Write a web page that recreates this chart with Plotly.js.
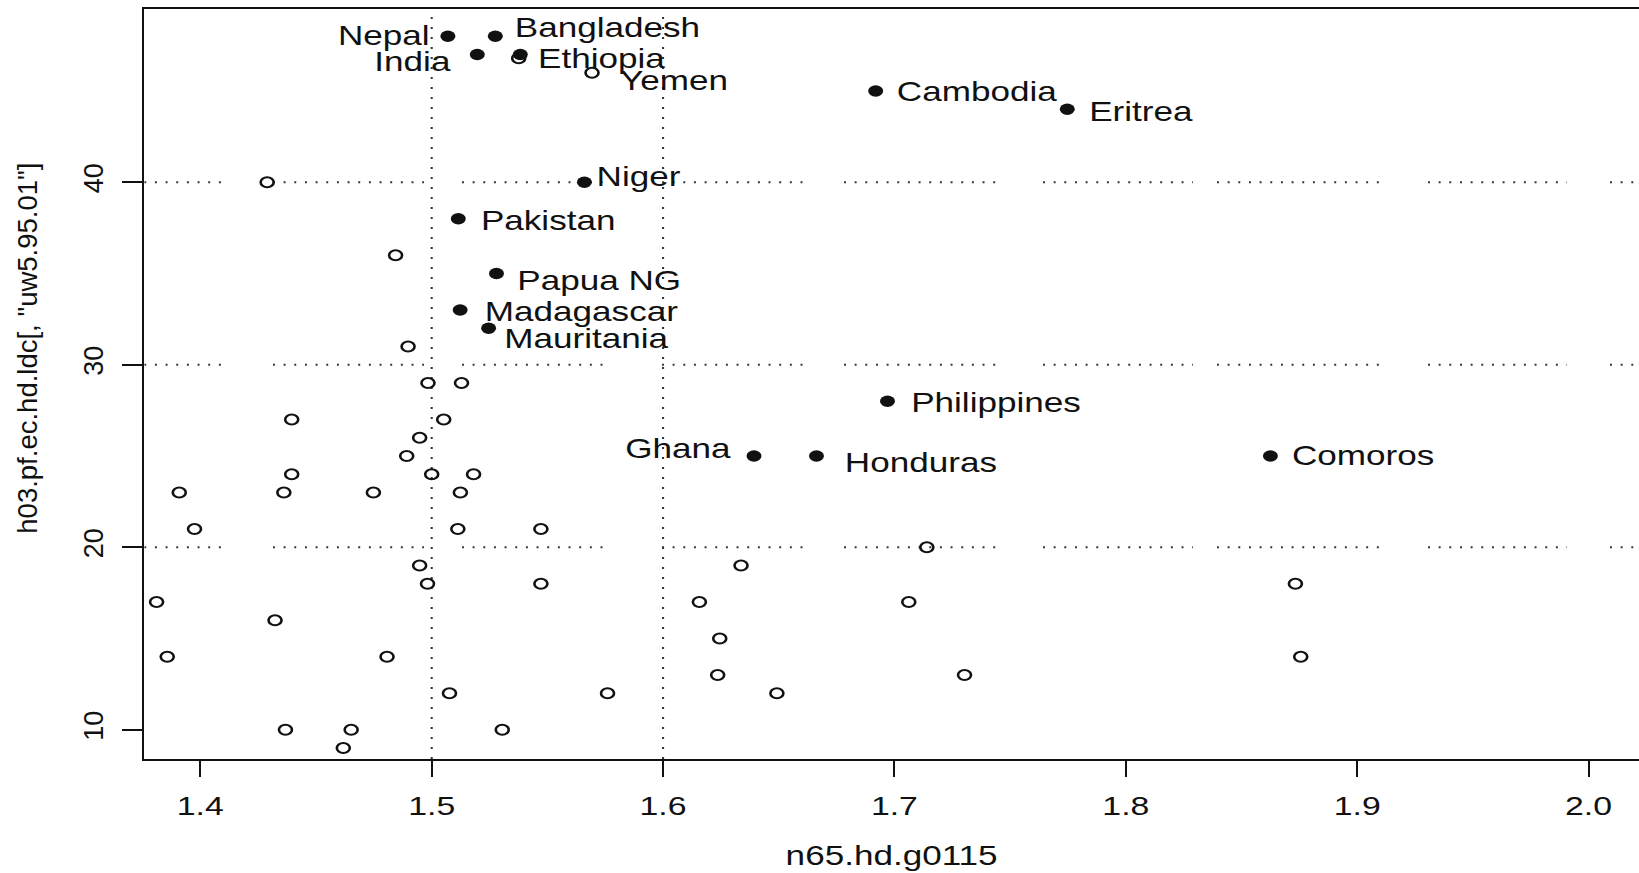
<!DOCTYPE html>
<html>
<head>
<meta charset="utf-8">
<script src="https://cdn.plot.ly/plotly-3.0.1.min.js"></script>
<style>
  html, body { margin:0; padding:0; background:#fff; overflow:hidden; width:1639px; height:873px; }
  #wrap { position:relative; width:1639px; height:873px; overflow:hidden; background:#fff; }
  #main { position:absolute; left:0; top:0; width:1261px; height:873px; transform-origin:0 0; }
  #ylab { position:absolute; left:0; top:0; width:1639px; height:873px; pointer-events:none; }
</style>
</head>
<body>
<div id="wrap"><div id="main"></div><div id="ylab"></div></div>
<script>
// ---------------- data ----------------
const labCountries = ['Nepal','Bangladesh','India','Ethiopia','Yemen','Cambodia','Eritrea','Niger',
                      'Pakistan','Papua NG','Madagascar','Mauritania','Philippines','Ghana','Honduras','Comoros'];
const labX = [1.5070, 1.5275, 1.5197, 1.5383, 1.5693, 1.6919, 1.7747, 1.5660,
              1.5115, 1.5280, 1.5123, 1.5246, 1.6970, 1.6393, 1.6663, 1.8625];
const labY = [48, 48, 47, 47, 46, 45, 44, 40,
              38, 35, 33, 32, 28, 25, 25, 25];
const labFilled = [true, true, true, true, false, true, true, true,
                   true, true, true, true, true, true, true, true];

const otherX = [1.4289, 1.4844, 1.4898, 1.4984, 1.5129, 1.4395, 1.5052, 1.4948, 1.4892,
                1.4395, 1.5000, 1.5181, 1.3909, 1.4361, 1.4748, 1.5124, 1.3975, 1.5113,
                1.5472, 1.4948, 1.4982, 1.5472, 1.6337, 1.3811, 1.6157, 1.4323, 1.6245,
                1.3857, 1.4807, 1.6236, 1.5077, 1.5760, 1.6492, 1.4368, 1.4652, 1.5305,
                1.4618, 1.7140, 1.7062, 1.8733, 1.8756, 1.7303, 1.5376];
const otherY = [40, 36, 31, 29, 29, 27, 27, 26, 25,
                24, 24, 24, 23, 23, 23, 23, 21, 21,
                21, 19, 18, 18, 19, 17, 17, 16, 15,
                14, 14, 13, 12, 12, 12, 10, 10, 10,
                9, 20, 17, 18, 14, 13, 46.8];

const xTicks = [1.4, 1.5, 1.6, 1.7, 1.8, 1.9, 2.0];
const xTickText = ['1.4', '1.5', '1.6', '1.7', '1.8', '1.9', '2.0'];
const yTicks = [10, 20, 30, 40];
const yTickText = ['10', '20', '30', '40'];
const hRefLines = [20, 30, 40];
const vRefLines = [1.5, 1.6];
const xTitle = 'n65.hd.g0115';
const yTitle = 'h03.pf.ec.hd.ldc[, "uw5.95.01"]';

// ---------------- styling / geometry ----------------
const FINAL_W = 1639, PRE_W = 1261, SX = FINAL_W / PRE_W;
const xRange = [1.37578, 2.0218];
const yRange = [8.395, 49.495];
const FONT = 'Arial, "Liberation Sans", Helvetica, sans-serif';
const INK = '#111';

// label offsets in final pixels: [anchor, dx, dy(down +)]
const labStyle = {
  'Nepal':['right',-18,0], 'Bangladesh':['left',19,-8], 'India':['right',-25,7.5],
  'Ethiopia':['left',18,4], 'Yemen':['left',28,8.5], 'Cambodia':['left',21,1],
  'Eritrea':['left',22,3], 'Niger':['left',12,-5], 'Pakistan':['left',22,2],
  'Papua NG':['left',21,7], 'Madagascar':['left',25,2], 'Mauritania':['left',16,10.5],
  'Philippines':['left',24,2], 'Ghana':['right',-22,-7], 'Honduras':['left',28,7],
  'Comoros':['left',22,0]
};

// rendering artefact: gaps in the dotted horizontal reference lines (final px)
const hGapsPx = [[227,273],[424,462],[608,662],[807,844],[998,1043],[1193,1217],[1384,1428],[1567,1610]];
const plotLeftPx = 144.3, plotRightPx = 1639;
function pxToX(px){ return xRange[0] + (px - plotLeftPx) / (plotRightPx - plotLeftPx) * (xRange[1] - xRange[0]); }

document.getElementById('main').style.transform = 'scaleX(' + SX + ')';

const openX = otherX.slice(), openY = otherY.slice();
const fillX = [], fillY = [];
labCountries.forEach((c, i) => {
  if (labFilled[i]) { fillX.push(labX[i]); fillY.push(labY[i]); }
  else { openX.push(labX[i]); openY.push(labY[i]); }
});

const traces = [
  { type:'scatter', mode:'markers', x:openX, y:openY, hoverinfo:'skip',
    marker:{ symbol:'circle-open', size:10, color:INK, line:{ width:2, color:INK } } },
  { type:'scatter', mode:'markers', x:fillX, y:fillY, hoverinfo:'skip',
    marker:{ symbol:'circle', size:11.5, color:INK, line:{ width:0 } } }
];

const shapes = [];
const dotH = { color:'#333', width:2, dash:'1.5px,6.7px' };
const dotV = { color:'#333', width:1.6, dash:'2px,8px' };
hRefLines.forEach(yv => {
  let start = xRange[0];
  hGapsPx.forEach(g => {
    const a = pxToX(g[0]), b = pxToX(g[1]);
    if (a > start) shapes.push({ type:'line', xref:'x', yref:'y', x0:start, x1:a, y0:yv, y1:yv, line:dotH, layer:'below' });
    start = b;
  });
  if (start < xRange[1]) shapes.push({ type:'line', xref:'x', yref:'y', x0:start, x1:xRange[1], y0:yv, y1:yv, line:dotH, layer:'below' });
});
vRefLines.forEach(xv => {
  shapes.push({ type:'line', xref:'x', yref:'paper', x0:xv, x1:xv, y0:0, y1:1, line:dotV, layer:'below' });
});

const annotations = labCountries.map((c, i) => {
  const st = labStyle[c];
  const left = st[0] === 'left';
  return {
    x: labX[i], y: labY[i], xref:'x', yref:'y', text:c, showarrow:false,
    xanchor: st[0], yanchor:'middle',
    xshift: st[1] / SX + (left ? -2 : 2), yshift: -st[2],
    font:{ family:FONT, size:27, color:INK }
  };
});

const layout = {
  width: PRE_W, height: 873,
  margin:{ l:111, r:0, t:9, b:114, pad:0 },
  paper_bgcolor:'#fff', plot_bgcolor:'#fff', showlegend:false,
  font:{ family:FONT, color:INK, size:26 },
  xaxis:{ range:xRange, showline:true, mirror:true, linecolor:INK, linewidth:2,
          ticks:'outside', ticklen:16, tickwidth:1.6, tickcolor:INK,
          tickmode:'array', tickvals:xTicks, ticktext:xTickText, tickfont:{ family:FONT, size:26, color:INK },
          ticklabelstandoff:7, showgrid:false, zeroline:false, fixedrange:true,
          title:{ text:xTitle, font:{ family:FONT, size:27, color:INK }, standoff:26 } },
  yaxis:{ range:yRange, showline:true, linecolor:INK, linewidth:1.6,
          ticks:'outside', ticklen:15.4, tickwidth:2, tickcolor:INK,
          tickmode:'array', tickvals:yTicks, showticklabels:false,
          showgrid:false, zeroline:false, fixedrange:true },
  shapes: shapes,
  annotations: annotations
};

Plotly.newPlot('main', traces, layout, { staticPlot:true, displayModeBar:false });

// un-stretched layer for the rotated y-axis labels and title
const layout2 = {
  width: FINAL_W, height: 873,
  margin:{ l:144, r:0, t:9, b:114, pad:0 },
  paper_bgcolor:'rgba(0,0,0,0)', plot_bgcolor:'rgba(0,0,0,0)', showlegend:false,
  xaxis:{ visible:false, range:[0,1], fixedrange:true },
  yaxis:{ range:yRange, tickmode:'array', tickvals:yTicks, ticktext:yTickText, tickangle:-90,
          ticks:'', showline:false, showgrid:false, zeroline:false, fixedrange:true,
          ticklabelstandoff:35, tickfont:{ family:FONT, size:27, color:INK } },
  annotations:[{ xref:'paper', yref:'paper', x:(28 - 144) / 1495, y:(759.3 - 349) / 750,
                 text:yTitle, textangle:-90, showarrow:false, xanchor:'center', yanchor:'middle',
                 font:{ family:FONT, size:27.5, color:INK } }]
};
Plotly.newPlot('ylab', [], layout2, { staticPlot:true, displayModeBar:false });
</script>
</body>
</html>
